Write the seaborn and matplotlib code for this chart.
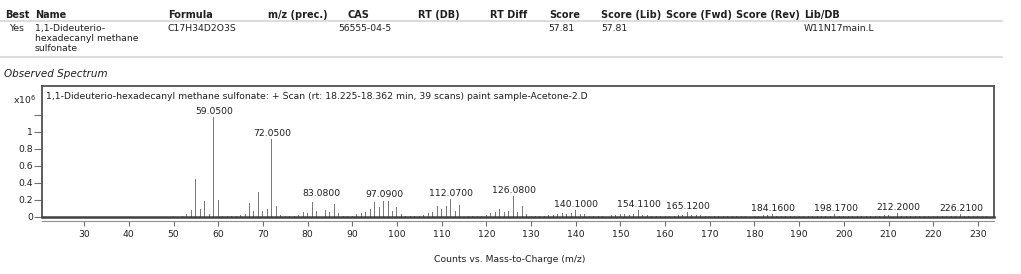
import numpy as np
import pandas as pd
import seaborn as sns
import matplotlib.pyplot as plt
from matplotlib.lines import Line2D

sns.set_style('white')
plt.rcParams['font.family'] = ['DejaVu Sans']

W, H = 1021, 274

# --- compound hit table ---
header_names = ['Best', 'Name', 'Formula', 'm/z (prec.)', 'CAS', 'RT (DB)', 'RT Diff',
                'Score', 'Score (Lib)', 'Score (Fwd)', 'Score (Rev)', 'Lib/DB']
row_values = ['Yes', '1,1-Dideuterio-\nhexadecanyl methane\nsulfonate', 'C17H34D2O3S', '',
              '56555-04-5', '', '', '57.81', '57.81', '', '', 'W11N17main.L']

spectrum_title = ('1,1-Dideuterio-hexadecanyl methane sulfonate: + Scan '
                  '(rt: 18.225-18.362 min, 39 scans) paint sample-Acetone-2.D')

# --- spectrum (nominal m/z, counts x10^6) ---
mz = list(range(50, 233))
intensity = [
    # 50-59
    0.012, 0.012, 0.012, 0.03, 0.08, 0.44, 0.09, 0.18, 0.03, 1.17,
    # 60-69
    0.20, 0.012, 0.012, 0.012, 0.012, 0.02, 0.03, 0.16, 0.07, 0.29,
    # 70-79
    0.07, 0.09, 0.91, 0.13, 0.02, 0.012, 0.012, 0.012, 0.02, 0.05,
    # 80-89
    0.04, 0.17, 0.07, 0.21, 0.08, 0.06, 0.15, 0.04, 0.012, 0.012,
    # 90-99
    0.012, 0.03, 0.04, 0.05, 0.09, 0.17, 0.11, 0.19, 0.18, 0.07,
    # 100-109
    0.11, 0.03, 0.012, 0.012, 0.012, 0.012, 0.02, 0.04, 0.05, 0.12,
    # 110-119
    0.09, 0.12, 0.21, 0.07, 0.14, 0.05, 0.012, 0.012, 0.012, 0.012,
    # 120-129
    0.02, 0.04, 0.05, 0.09, 0.06, 0.07, 0.24, 0.05, 0.12, 0.03,
    # 130-139
    0.012, 0.012, 0.012, 0.012, 0.02, 0.02, 0.03, 0.04, 0.03, 0.04,
    # 140-149
    0.08, 0.03, 0.03, 0.012, 0.012, 0.012, 0.012, 0.012, 0.02, 0.02,
    # 150-159
    0.03, 0.03, 0.02, 0.03, 0.08, 0.02, 0.02, 0.012, 0.012, 0.012,
    # 160-169
    0.012, 0.012, 0.012, 0.02, 0.02, 0.055, 0.02, 0.02, 0.02, 0.012,
    # 170-179
    0.012, 0.012, 0.012, 0.012, 0.012, 0.012, 0.012, 0.012, 0.012, 0.012,
    # 180-189
    0.012, 0.012, 0.02, 0.02, 0.03, 0.012, 0.012, 0.012, 0.012, 0.012,
    # 190-199
    0.012, 0.012, 0.012, 0.012, 0.012, 0.012, 0.012, 0.012, 0.03, 0.012,
    # 200-209
    0.012, 0.012, 0.012, 0.012, 0.012, 0.012, 0.012, 0.012, 0.012, 0.02,
    # 210-219
    0.02, 0.012, 0.045, 0.012, 0.012, 0.012, 0.012, 0.012, 0.012, 0.012,
    # 220-229
    0.012, 0.012, 0.012, 0.012, 0.012, 0.012, 0.03, 0.012, 0.012, 0.012,
    # 230-232
    0.012, 0.012, 0.012,
]
label_mz = [59.05, 72.05, 83.08, 97.09, 112.07, 126.08, 140.10,
            154.11, 165.12, 184.16, 198.17, 212.20, 226.21]

x_ticks = [30, 40, 50, 60, 70, 80, 90, 100, 110, 120, 130, 140, 150,
           160, 170, 180, 190, 200, 210, 220, 230]
y_ticks = [0, 0.2, 0.4, 0.6, 0.8, 1.0, 1.2]
y_ticklabels = ['0', '0.2', '0.4', '0.6', '0.8', '1', '']

df = pd.DataFrame({'mz': mz, 'counts': intensity})

fig = plt.figure(figsize=(W / 100, H / 100), dpi=100)


def fx(x):
    return x / W


def fy(y):
    return 1 - y / H


txt = '#202020'
fs = 6.7

# table header + row
col_x = [5, 35, 168, 268, 347, 418, 490, 549, 601, 666, 736, 804]
row_x = [9, 35, 168, 268, 338, 418, 490, 548, 601, 666, 736, 804]
for name, x in zip(header_names, col_x):
    fig.text(fx(x), fy(15), name, fontsize=7, fontweight='bold', color=txt,
             ha='left', va='center')
for val, x in zip(row_values, row_x):
    if val:
        fig.text(fx(x), fy(24), val, fontsize=fs, color=txt, ha='left', va='top',
                 linespacing=1.12)
for yl in (20.7, 56.7):
    fig.add_artist(Line2D([0, fx(1002)], [fy(yl), fy(yl)], color='#dcdcdc', lw=1.5))

fig.text(fx(4), fy(74), 'Observed Spectrum', fontsize=7.5, style='italic',
         color=txt, ha='left', va='center')
fig.text(fx(36), fy(100), r'x10$^6$', fontsize=fs, color=txt, ha='right', va='center')

# spectrum axes
ax = fig.add_axes([fx(41.7), fy(216.7), fx(994) - fx(41.7), fy(85.7) - fy(216.7)])
sns.histplot(data=df, x='mz', weights='counts', discrete=True, shrink=0.22,
             color='#7a7a7a', linewidth=0, alpha=1, ax=ax)
ax.set_xlim(20.5, 233.6)
ax.set_ylim(0, 1.54)
ax.set_xlabel('')
ax.set_ylabel('')

for m in label_mz:
    y = intensity[mz.index(int(round(m)))]
    ax.annotate(f'{m:.4f}', (m, y), xytext=(0, 0.8), textcoords='offset points',
                ha='center', va='bottom', fontsize=fs, color=txt)

ax.text(0.0045, 0.92, spectrum_title, transform=ax.transAxes, fontsize=fs,
        color=txt, ha='left', va='center')

for s in ax.spines.values():
    s.set_color('#505050')
    s.set_linewidth(1.3)
ax.spines['bottom'].set_linewidth(1.8)
ax.spines['bottom'].set_color('#404040')

ax.set_xticks([])
ax.set_yticks(y_ticks)
ax.set_yticklabels(y_ticklabels)
ax.tick_params(axis='y', direction='out', length=5.5, width=0.8, color='#707070',
               pad=0.5, labelsize=fs, labelcolor=txt, left=True)

sec = ax.secondary_xaxis(-0.03)
sec.set_xticks(x_ticks)
sec.tick_params(axis='x', direction='out', length=3.8, width=0.8, color='#707070',
                pad=3, labelsize=fs, labelcolor=txt)
sec.spines['bottom'].set_color('#909090')
sec.spines['bottom'].set_linewidth(0.8)

fig.text(fx(510), fy(259), 'Counts vs. Mass-to-Charge (m/z)', fontsize=fs,
         color=txt, ha='center', va='center')

fig.savefig('out.png', dpi=100)
